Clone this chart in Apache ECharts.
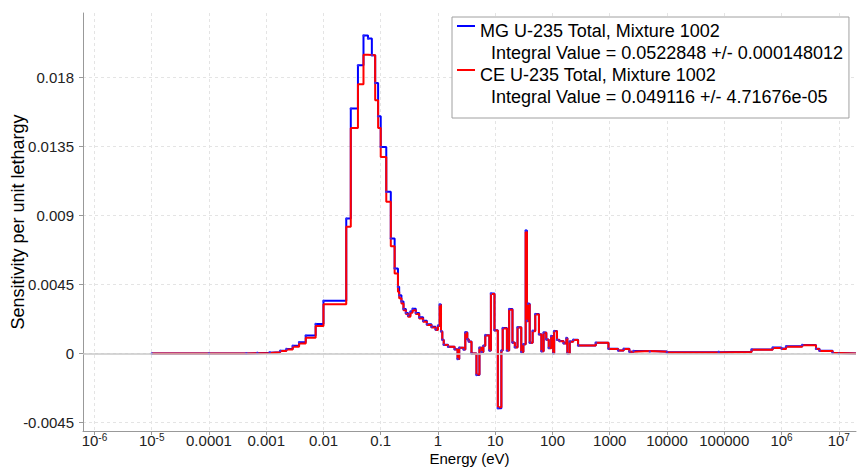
<!DOCTYPE html>
<html>
<head>
<meta charset="utf-8">
<title>U-235 sensitivity per unit lethargy</title>
<script src="https://cdn.jsdelivr.net/npm/echarts@6/dist/echarts.min.js"></script>
<style>
  html, body { margin: 0; padding: 0; background: #ffffff; }
  #chart { width: 858px; height: 470px; }
</style>
</head>
<body>
<div id="chart"></div>
<script>
// Group boundaries in eV (lower edge of every group, plus the final upper edge)
const energyEdges = [
  1e-5, 1e-4, 4.5e-4, 7e-4, 1.15e-3, 1.75e-3, 2.25e-3, 2.9e-3, 3.75e-3, 4.9e-3,
  7.3e-3, 0.01, 0.025, 0.03, 0.04, 0.05, 0.06, 0.07, 0.08, 0.09,
  0.1, 0.125, 0.15, 0.175, 0.2, 0.21, 0.23, 0.25, 0.275, 0.3,
  0.33, 0.36, 0.41, 0.47, 0.55, 0.64, 0.77, 0.91, 1.0, 1.07,
  1.13, 1.19, 1.26, 1.5, 1.95, 2.2, 2.35, 2.8, 3.0, 3.25,
  3.45, 3.85, 4.7, 5.3, 5.8, 6.2, 6.7, 7.9, 8.4, 9.7,
  11.1, 12.8, 13.5, 16, 17.5, 20, 22, 24.5, 28.5, 31,
  34, 35.8, 37.5, 40, 45, 50, 58, 64, 70, 78,
  86, 95, 103, 107, 120, 132, 156, 175, 182, 200,
  230, 280, 570, 950, 1400, 1750, 2200, 2600, 5000, 1e4,
  8e4, 3e5, 7e5, 1e6, 1.2e6, 2.3e6, 4e6, 4.6e6, 7.8e6, 1e7,
  2e7
];

// Multigroup sensitivity per unit lethargy, one value per group
const mgValues = [
  0, 0.000005, 0.00002, 0.00005, 0.00009, 0.00018, 0.0003, 0.0005, 0.00074, 0.00117,
  0.00193, 0.00344, 0.0088, 0.01597, 0.01879, 0.02074, 0.02053, 0.01944, 0.01764, 0.01547,
  0.01347, 0.01054, 0.0075, 0.00555, 0.00435, 0.0038, 0.0034, 0.0029, 0.00265, 0.00248,
  0.00274, 0.00292, 0.00265, 0.00236, 0.00213, 0.00191, 0.00174, 0.00157, 0.00183, 0.0032,
  0.00145, 0.0009, 0.00057, 0.00045, 0.00028, -0.00036, 0.00038, 0.00027, 0.00138, 0.00093,
  0.00079, 0.0, -0.0014, 0.00038, 0.0001, 0.00051, 0.0012, 0.0002, 0.00392, 0.00152,
  -0.00356, 0.0002, 0.00166, 0.0002, 0.0029, 0.00072, 0.00041, 0.00172, 0.0001, 0.00061,
  0.00802, 0.00214, 0.00325, 0.00071, 0.00148, 0.00258, 0.00126, 0.00015, 0.00137, 0.00092,
  0.00036, 0.00115, 0.0, 0.00147, 0.0009, 0.00082, 0.00067, 0.00102, 0.0, 0.00079,
  0.0009, 0.00053, 0.00071, 0.00031, 0.0002, 0.00031, 0.00012, 0.00017, 0.00013, 0.00008,
  0.00011, 0.00027, 0.00039, 0.00033, 0.00047, 0.00056, 0.00031, 0.00018, 0.00004, 0.0
];

// Continuous-energy sensitivity per unit lethargy, one value per group
const ceValues = [
  0, 0.000005, 0.00002, 0.00004, 0.00008, 0.00016, 0.00027, 0.00044, 0.00066, 0.00103,
  0.00179, 0.00322, 0.00826, 0.0147, 0.01755, 0.01948, 0.01946, 0.01944, 0.01651, 0.0147,
  0.01282, 0.00989, 0.0070, 0.00522, 0.00403, 0.0036, 0.00327, 0.00283, 0.00257, 0.0024,
  0.00266, 0.00283, 0.00257, 0.00229, 0.00207, 0.00186, 0.0017, 0.00153, 0.00179, 0.00316,
  0.00142, 0.00088, 0.00055, 0.00044, 0.00027, -0.00035, 0.00037, 0.00026, 0.00135, 0.00091,
  0.00077, 0.0, -0.00137, 0.00037, 0.0001, 0.0005, 0.00117, 0.0002, 0.00388, 0.0015,
  -0.0035, 0.0002, 0.00163, 0.0002, 0.00286, 0.0007, 0.0004, 0.00169, 0.0001, 0.0006,
  0.00793, 0.0021, 0.0032, 0.0007, 0.00145, 0.00254, 0.00124, 0.00015, 0.00135, 0.0009,
  0.00035, 0.00113, 0.0, 0.00145, 0.00088, 0.0008, 0.00066, 0.001, 0.0, 0.00077,
  0.00088, 0.00052, 0.0007, 0.0003, 0.0002, 0.0003, 0.00012, 0.00016, 0.00012, 0.00007,
  0.0001, 0.00025, 0.00036, 0.0003, 0.00045, 0.00054, 0.0003, 0.00017, 0.00004, 0.0
];

const seriesNames = ['MG U-235 Total, Mixture 1002', 'CE U-235 Total, Mixture 1002'];
const integralTexts = [
  'Integral Value = 0.0522848 +/- 0.000148012',
  'Integral Value = 0.049116 +/- 4.71676e-05'
];

// Energy axis ticks: one per decade, given as the decade's exponent
const xTickExponents = [-6, -5, -4, -3, -2, -1, 0, 1, 2, 3, 4, 5, 6, 7];
const xTickLabels = ['10^-6', '10^-5', '0.0001', '0.001', '0.01', '0.1', '1', '10',
                     '100', '1000', '10000', '100000', '10^6', '10^7'];
const yTickValues = [-0.0045, 0, 0.0045, 0.009, 0.0135, 0.018];
const yTickLabels = ['-0.0045', '0', '0.0045', '0.009', '0.0135', '0.018'];

// The energy axis is logarithmic: positions along it are decades, log10(E)
const toDecade = e => Math.log10(e);

// Step-series points: each group starts at its lower edge, the last value runs to the top edge
function stepPoints(values) {
  const pts = values.map((v, i) => [toDecade(energyEdges[i]), v]);
  pts.push([toDecade(energyEdges[energyEdges.length - 1]), values[values.length - 1]]);
  return pts;
}

const FONT = "'Liberation Sans', Arial, sans-serif";

function xLabel(value) {
  const idx = xTickExponents.findIndex(e => Math.abs(e - value) < 1e-6);
  if (idx < 0) return '';
  const txt = xTickLabels[idx];
  if (txt.indexOf('^') >= 0) {
    const parts = txt.split('^');
    return '{n|' + parts[0] + '}{s|' + parts[1] + '}';
  }
  return '{n|' + txt + '}';
}

const chart = echarts.init(document.getElementById('chart'), null, { renderer: 'svg' });

chart.setOption({
  animation: false,
  backgroundColor: '#ffffff',
  textStyle: { fontFamily: FONT },
  grid: { left: 83, right: 2, top: 13, bottom: 39, containLabel: false, outerBoundsMode: 'none' },
  legend: {
    left: 452,
    top: 17,
    orient: 'vertical',
    backgroundColor: '#ffffff',
    borderColor: '#a0a0a0',
    borderWidth: 1,
    borderRadius: 0,
    padding: [3, 6, 10, 5],
    itemGap: 0,
    itemWidth: 18,
    itemHeight: 44,
    selectedMode: false,
    data: [
      { name: seriesNames[0], icon: 'path://M0,0H0.01V0.01H0Z M0,5H18V7H0Z M0,44H0.01V44.01H0Z' },
      { name: seriesNames[1], icon: 'path://M0,0H0.01V0.01H0Z M0,5H18V7H0Z M0,44H0.01V44.01H0Z' }
    ],
    formatter: function (name) {
      const i = seriesNames.indexOf(name);
      return '{t|' + name + '}\n{v|' + integralTexts[i] + '}';
    },
    textStyle: {
      color: '#000000',
      fontFamily: FONT,
      fontSize: 18,
      rich: {
        t: { fontSize: 18, lineHeight: 22, fontFamily: FONT, color: '#000000' },
        v: { fontSize: 18, lineHeight: 22, fontFamily: FONT, color: '#000000', padding: [0, 0, 0, 11] }
      }
    }
  },
  xAxis: {
    type: 'value',
    min: -6.2,
    max: toDecade(2e7),
    name: 'Energy (eV)',
    nameLocation: 'middle',
    nameGap: 20,
    nameMoveOverlap: false,
    nameTextStyle: { fontSize: 15, color: '#000000', fontFamily: FONT },
    axisLine: { onZero: false, lineStyle: { color: '#999999', width: 1 } },
    axisTick: { show: true, inside: false, length: 4, customValues: xTickExponents, lineStyle: { color: '#999999' } },
    axisLabel: {
      customValues: xTickExponents,
      margin: 1,
      formatter: xLabel,
      color: '#222222',
      fontFamily: FONT,
      rich: {
        n: { fontSize: 15, color: '#222222', fontFamily: FONT, lineHeight: 17 },
        s: { fontSize: 10, color: '#222222', fontFamily: FONT, verticalAlign: 'top', lineHeight: 10 }
      }
    },
    splitLine: { show: true, lineStyle: { color: '#e4e4e4', type: [3, 3], width: 1 } }
  },
  yAxis: {
    type: 'value',
    min: -0.00505,
    max: 0.0222,
    name: 'Sensitivity per unit lethargy',
    nameLocation: 'middle',
    nameGap: 56,
    nameMoveOverlap: false,
    nameTextStyle: { fontSize: 18, color: '#000000', fontFamily: FONT },
    axisLine: { show: true, onZero: false, lineStyle: { color: '#999999', width: 1 } },
    axisTick: { show: true, inside: false, length: 4, customValues: yTickValues, lineStyle: { color: '#999999' } },
    axisLabel: {
      customValues: yTickValues,
      margin: 9,
      fontSize: 15,
      color: '#222222',
      fontFamily: FONT,
      formatter: function (v) {
        const i = yTickValues.findIndex(t => Math.abs(t - v) < 1e-9);
        return i >= 0 ? yTickLabels[i] : '';
      }
    },
    splitLine: { show: true, lineStyle: { color: '#e4e4e4', type: [3, 3], width: 1 } }
  },
  series: [
    {
      name: seriesNames[0],
      type: 'line',
      step: 'end',
      data: stepPoints(mgValues),
      showSymbol: false,
      symbol: 'none',
      color: '#0000ff',
      lineStyle: { color: '#0000ff', width: 2 },
      z: 2,
      markLine: {
        silent: true,
        symbol: ['none', 'none'],
        label: { show: false },
        lineStyle: { color: '#c8c8c8', type: 'solid', width: 1.5 },
        data: [{ yAxis: 0 }]
      }
    },
    {
      name: seriesNames[1],
      type: 'line',
      step: 'end',
      data: stepPoints(ceValues),
      showSymbol: false,
      symbol: 'none',
      color: '#ff0000',
      lineStyle: { color: '#ff0000', width: 2 },
      z: 3
    },
    {
      name: 'MG group points',
      type: 'scatter',
      data: mgValues.map((v, i) => [toDecade(energyEdges[i]), v]),
      symbol: 'circle',
      symbolSize: 2.5,
      itemStyle: { color: '#3030ff', opacity: 0.8 },
      silent: true,
      z: 4
    }
  ]
});
</script>
</body>
</html>
